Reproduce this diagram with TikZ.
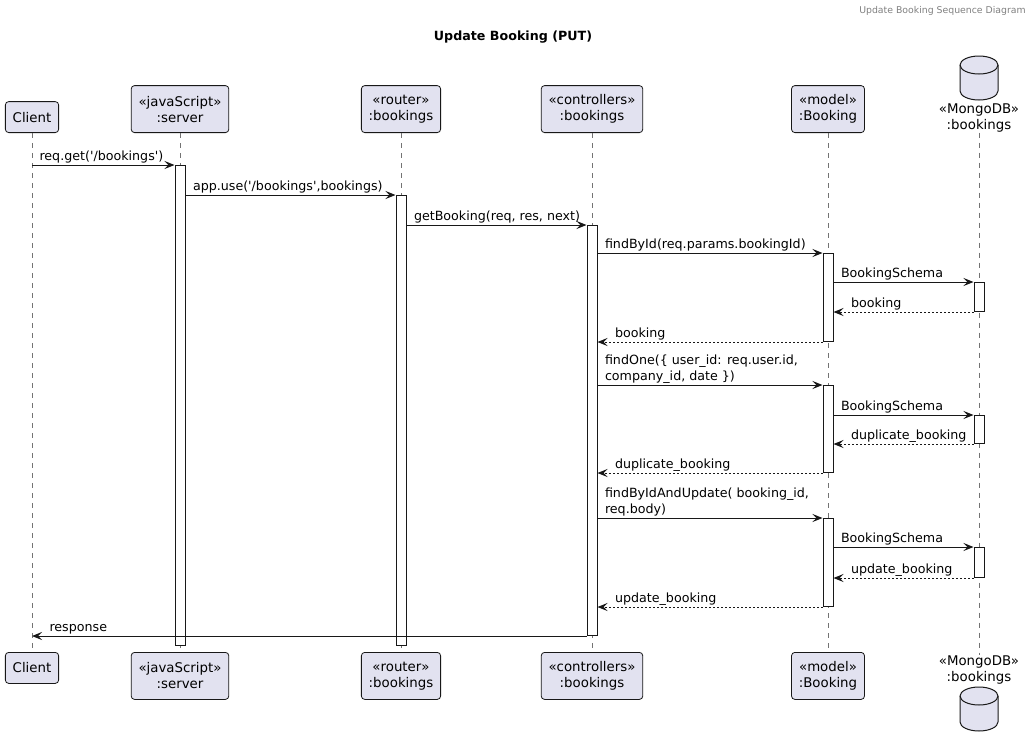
\documentclass[tikz,border=0pt]{standalone}
\usepackage{fontspec}
\setmainfont{DejaVu Sans}[Ligatures=TeXOff]
\usetikzlibrary{arrows.meta}
\definecolor{partfill}{HTML}{E2E2F0}
\definecolor{partline}{HTML}{181818}

\begin{document}
\begin{tikzpicture}[x=0.75pt, y=-0.75pt,
  part/.style={draw=partline, line width=0.6pt, fill=partfill, rounded corners=2.5pt,
    align=center, inner xsep=5.5pt, inner ysep=0pt, minimum height=23.25pt,
    font=\fontsize{10}{12}\selectfont},
  parttwo/.style={part, minimum height=35.25pt},
  dbname/.style={align=center, inner sep=0pt, font=\fontsize{10}{12}\selectfont},
  dbshape/.style={draw=partline, line width=0.75pt, fill=partfill},
  life/.style={draw=black!55, line width=0.5pt, dash pattern=on 3.75pt off 3.75pt},
  act/.style={draw=partline, line width=0.75pt, fill=white, minimum width=7.5pt,
    inner sep=0pt, anchor=north},
  msg/.style={draw=partline, line width=0.75pt, -{Stealth[length=7.5pt, width=6pt, inset=3pt]}},
  ret/.style={msg, dash pattern=on 1.5pt off 1.5pt},
  lbl/.style={anchor=south west, inner sep=0pt, xshift=5.25pt, yshift=0.75pt, align=left,
    font=\fontsize{9.5}{12}\selectfont},
  rlbl/.style={lbl, xshift=7.5pt}
]

  \newcommand\X{0.75pt}

  \useasboundingbox (0,0) rectangle (1033,747);

  \node[anchor=north east, inner sep=0pt, text=black!50, font=\fontsize{7}{8}\selectfont]
    (hdr) at (1026,6) {Update Booking Sequence Diagram};
  \node[font=\bfseries\fontsize{9.5}{12}\selectfont] (ttl) at (513,37) {Update Booking (PUT)};

  % participants
  \node[part, anchor=south] (cli) at (32,133) {Client};
  \node[parttwo, anchor=south] (srv) at (180,133) {«javaScript»\\:server};
  \node[parttwo, anchor=south] (rtr) at (401,133) {«router»\\:bookings};
  \node[parttwo, anchor=south] (ctl) at (592,133) {«controllers»\\:bookings};
  \node[parttwo, anchor=south] (mdl) at (828,133) {«model»\\:Booking};
  \node[dbname] (dbn) at (979,118) {«MongoDB»\\:bookings};

  \node[part, anchor=north] (cliB) at (32,652) {Client};
  \node[parttwo, anchor=north] (srvB) at (180,652) {«javaScript»\\:server};
  \node[parttwo, anchor=north] (rtrB) at (401,652) {«router»\\:bookings};
  \node[parttwo, anchor=north] (ctlB) at (592,652) {«controllers»\\:bookings};
  \node[parttwo, anchor=north] (mdlB) at (828,652) {«model»\\:Booking};
  \node[dbname] (dbnB) at (979,670) {«MongoDB»\\:bookings};

  % database drums
  \foreach \t in {65, 696}{
    \filldraw[dbshape] (960,\t) -- (960,\t+26) arc[start angle=180, end angle=0, x radius=19, y radius=9]
      -- (998,\t) arc[start angle=0, end angle=-180, x radius=19, y radius=9] -- cycle;
    \draw[dbshape, fill=none] (960,\t) arc[start angle=180, end angle=0, x radius=19, y radius=9];
  }

  % lifelines
  \draw[life] (cli.south) -- (cliB.north);
  \draw[life] (srv.south) -- (srvB.north);
  \draw[life] (rtr.south) -- (rtrB.north);
  \draw[life] (ctl.south) -- (ctlB.north);
  \draw[life] (mdl.south) -- (mdlB.north);
  \draw[life] (dbn.south) -- (dbnB.north);

  % activations
  \node[act, minimum height=480*\X] (sa) at (180,165) {};
  \node[act, minimum height=450*\X] (ra) at (401,195) {};
  \node[act, minimum height=410*\X] (ca) at (592,225) {};
  \node[act, minimum height=88*\X] (m1) at (828,253) {};
  \node[act, minimum height=87*\X] (m2) at (828,385) {};
  \node[act, minimum height=88*\X] (m3) at (828,518) {};
  \node[act, minimum height=29*\X] (d1) at (979,282) {};
  \node[act, minimum height=28*\X] (d2) at (979,415) {};
  \node[act, minimum height=30*\X] (d3) at (979,547) {};

  % messages
  \draw[msg] (cli |- sa.north) -- node[lbl, pos=0]{req.get('/bookings')} (sa.north west);
  \draw[msg] (sa.east |- ra.north) -- node[lbl, pos=0]{app.use('/bookings',bookings)} (ra.north west);
  \draw[msg] (ra.east |- ca.north) -- node[lbl, pos=0]{getBooking(req, res, next)} (ca.north west);

  \draw[msg] (ca.east |- m1.north) -- node[lbl, pos=0]{findById(req.params.bookingId)} (m1.north west);
  \draw[msg] (m1.east |- d1.north) -- node[lbl, pos=0]{BookingSchema} (d1.north west);
  \draw[ret] (d1.south west) -- node[rlbl, pos=1]{booking} (m1.east |- d1.south);
  \draw[ret] (m1.south west) -- node[rlbl, pos=1]{booking} (ca.east |- m1.south);

  \draw[msg] (ca.east |- m2.north) -- node[lbl, pos=0]{findOne(\{ user\_id: req.user.id,\\company\_id, date \})} (m2.north west);
  \draw[msg] (m2.east |- d2.north) -- node[lbl, pos=0]{BookingSchema} (d2.north west);
  \draw[ret] (d2.south west) -- node[rlbl, pos=1]{duplicate\_booking} (m2.east |- d2.south);
  \draw[ret] (m2.south west) -- node[rlbl, pos=1]{duplicate\_booking} (ca.east |- m2.south);

  \draw[msg] (ca.east |- m3.north) -- node[lbl, pos=0]{findByIdAndUpdate( booking\_id,\\req.body)} (m3.north west);
  \draw[msg] (m3.east |- d3.north) -- node[lbl, pos=0]{BookingSchema} (d3.north west);
  \draw[ret] (d3.south west) -- node[rlbl, pos=1]{update\_booking} (m3.east |- d3.south);
  \draw[ret] (m3.south west) -- node[rlbl, pos=1]{update\_booking} (ca.east |- m3.south);

  \draw[msg] (ca.south west) -- node[rlbl, pos=1]{response} (cli |- ca.south);

\end{tikzpicture}
\end{document}
